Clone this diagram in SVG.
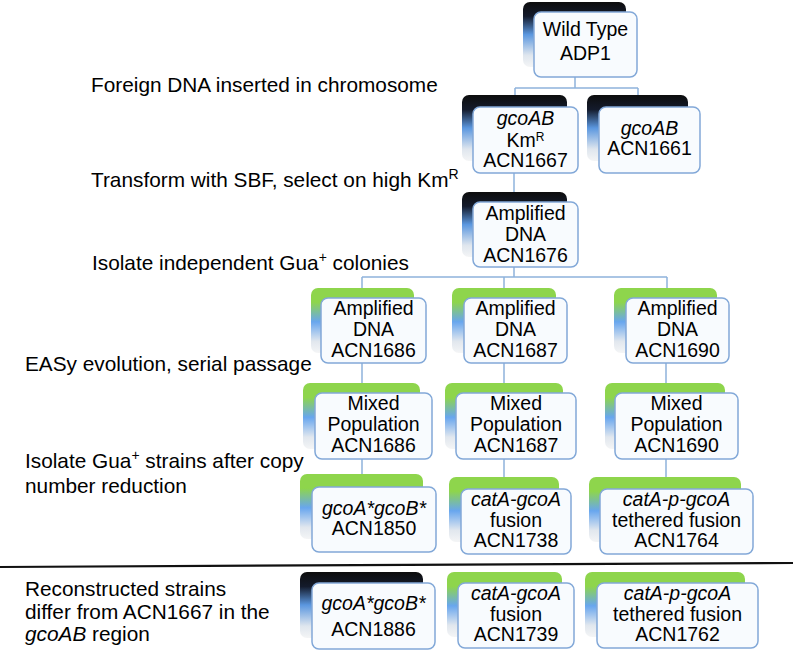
<svg xmlns="http://www.w3.org/2000/svg" width="793" height="650" viewBox="0 0 793 650">
<defs>
<linearGradient id="gDark" x1="0" y1="0" x2="0" y2="1">
<stop offset="0" stop-color="#0d0d0d"/>
<stop offset="0.22" stop-color="#141b2c"/>
<stop offset="0.5" stop-color="#5b97df"/>
<stop offset="0.82" stop-color="#dfe6ee"/>
<stop offset="1" stop-color="#f4f5f6"/>
</linearGradient>
<linearGradient id="gGreen" x1="0" y1="0" x2="0" y2="1">
<stop offset="0" stop-color="#8ed54c"/>
<stop offset="0.22" stop-color="#8ed54c"/>
<stop offset="0.52" stop-color="#68a6ee"/>
<stop offset="0.82" stop-color="#e1e7ee"/>
<stop offset="1" stop-color="#f4f5f6"/>
</linearGradient>
<style>
.box{fill:#f8fbfe;stroke:#82a8d8;stroke-width:1.5}
.bk{fill:url(#gDark)}
.bg{fill:url(#gGreen)}
.t{font-family:"Liberation Sans",Arial,sans-serif;font-size:19.5px;fill:#000;text-anchor:middle}
.l{font-family:"Liberation Sans",Arial,sans-serif;font-size:20.8px;fill:#000}
.i{font-style:italic}
.c{stroke:#8eb3dc;stroke-width:1.5;fill:none}
</style>
</defs>
<rect width="793" height="650" fill="#ffffff"/>

<g id="connectors" class="c">
<path d="M575,77 V88 M515,88 H638 M515,88 V107 M638,88 V107"/>
<path d="M514,173 V202"/>
<path d="M514,267 V277 M362,277 H667 M362,277 V298 M504,277 V298 M667,277 V298"/>
<path d="M362,363 V393 M504,363 V393 M666,363 V393"/>
<path d="M362,459 V487 M504,459 V489 M666,459 V489"/>
</g>

<g id="labels" class="l">
<text x="91" y="92">Foreign DNA inserted in chromosome</text>
<text x="91" y="187">Transform with SBF, select on high Km<tspan font-size="14" dy="-8">R</tspan></text>
<text x="92" y="270">Isolate independent Gua<tspan font-size="14" dy="-8">+</tspan><tspan dy="8">  colonies</tspan></text>
<text x="25" y="371">EASy evolution, serial passage</text>
<text x="25" y="468">Isolate Gua<tspan font-size="14" dy="-8">+</tspan><tspan dy="8"> strains after copy</tspan></text>
<text x="25" y="493">number reduction</text>
<text x="25" y="596">Reconstructed strains</text>
<text x="25" y="619">differ from ACN1667 in the</text>
<text x="25" y="641"><tspan class="i">gcoAB</tspan> region</text>
</g>

<path id="divider" d="M0,567 L793,563" stroke="#111" stroke-width="2.2" fill="none"/>

<g id="n-adp1">
<rect class="bk" x="523" y="2" width="103" height="65" rx="7"/>
<rect class="box" x="534" y="12" width="103" height="65" rx="7"/>
<text class="t"><tspan x="585.5" y="36">Wild Type</tspan><tspan x="585.5" y="60">ADP1</tspan></text>
</g>

<g id="n-acn1667">
<rect class="bk" x="462" y="95" width="105" height="66" rx="7"/>
<rect class="box" x="473" y="107" width="105" height="66" rx="7"/>
<text class="t"><tspan x="525.5" y="125" class="i">gcoAB</tspan><tspan x="525.5" y="147">Km<tspan font-size="12" dy="-6">R</tspan></tspan><tspan x="525.5" y="167">ACN1667</tspan></text>
</g>

<g id="n-acn1661">
<rect class="bk" x="587" y="95" width="101" height="66" rx="7"/>
<rect class="box" x="599" y="107" width="101" height="66" rx="7"/>
<text class="t"><tspan x="649.5" y="135" class="i">gcoAB</tspan><tspan x="649.5" y="155">ACN1661</tspan></text>
</g>

<g id="n-acn1676">
<rect class="bk" x="462" y="192" width="105" height="65" rx="7"/>
<rect class="box" x="473" y="202" width="105" height="65" rx="7"/>
<text class="t"><tspan x="525.5" y="220">Amplified</tspan><tspan x="525.5" y="241">DNA</tspan><tspan x="525.5" y="262">ACN1676</tspan></text>
</g>

<g id="n-acn1686a">
<rect class="bg" x="311" y="288" width="103" height="65" rx="7"/>
<rect class="box" x="321" y="298" width="105" height="65" rx="7"/>
<text class="t"><tspan x="373.5" y="315">Amplified</tspan><tspan x="373.5" y="336">DNA</tspan><tspan x="373.5" y="357">ACN1686</tspan></text>
</g>

<g id="n-acn1687a">
<rect class="bg" x="452" y="288" width="104" height="65" rx="7"/>
<rect class="box" x="464" y="298" width="103" height="65" rx="7"/>
<text class="t"><tspan x="515.5" y="315">Amplified</tspan><tspan x="515.5" y="336">DNA</tspan><tspan x="515.5" y="357">ACN1687</tspan></text>
</g>

<g id="n-acn1690a">
<rect class="bg" x="614" y="288" width="103" height="65" rx="7"/>
<rect class="box" x="626" y="298" width="103" height="65" rx="7"/>
<text class="t"><tspan x="677.5" y="315">Amplified</tspan><tspan x="677.5" y="336">DNA</tspan><tspan x="677.5" y="357">ACN1690</tspan></text>
</g>

<g id="n-acn1686m">
<rect class="bg" x="303" y="383" width="117" height="66" rx="7"/>
<rect class="box" x="315" y="393" width="117" height="66" rx="7"/>
<text class="t"><tspan x="373.5" y="410">Mixed</tspan><tspan x="373.5" y="431">Population</tspan><tspan x="373.5" y="452">ACN1686</tspan></text>
</g>

<g id="n-acn1687m">
<rect class="bg" x="445" y="383" width="118" height="66" rx="7"/>
<rect class="box" x="456" y="393" width="120" height="66" rx="7"/>
<text class="t"><tspan x="516" y="410">Mixed</tspan><tspan x="516" y="431">Population</tspan><tspan x="516" y="452">ACN1687</tspan></text>
</g>

<g id="n-acn1690m">
<rect class="bg" x="605" y="383" width="120" height="66" rx="7"/>
<rect class="box" x="615" y="393" width="123" height="66" rx="7"/>
<text class="t"><tspan x="676.5" y="410">Mixed</tspan><tspan x="676.5" y="431">Population</tspan><tspan x="676.5" y="452">ACN1690</tspan></text>
</g>

<g id="n-acn1850">
<rect class="bg" x="300" y="474" width="123" height="65" rx="7"/>
<rect class="box" x="312" y="487" width="124" height="65" rx="7"/>
<text class="t"><tspan x="374" y="515" class="i">gcoA*gcoB*</tspan><tspan x="374" y="535">ACN1850</tspan></text>
</g>

<g id="n-acn1738">
<rect class="bg" x="449" y="477" width="110" height="65" rx="7"/>
<rect class="box" x="461" y="489" width="110" height="65" rx="7"/>
<text class="t"><tspan x="516" y="506" class="i">catA-gcoA</tspan><tspan x="516" y="527">fusion</tspan><tspan x="516" y="547">ACN1738</tspan></text>
</g>

<g id="n-acn1764">
<rect class="bg" x="589" y="477" width="152" height="65" rx="7"/>
<rect class="box" x="600" y="489" width="153" height="65" rx="7"/>
<text class="t"><tspan x="676.5" y="506" class="i">catA-p-gcoA</tspan><tspan x="676.5" y="527">tethered fusion</tspan><tspan x="676.5" y="547">ACN1764</tspan></text>
</g>

<g id="n-acn1886">
<rect class="bk" x="300" y="572" width="123" height="66" rx="7"/>
<rect class="box" x="312" y="583" width="123" height="66" rx="7"/>
<text class="t"><tspan x="373.5" y="610" class="i">gcoA*gcoB*</tspan><tspan x="373.5" y="636">ACN1886</tspan></text>
</g>

<g id="n-acn1739">
<rect class="bg" x="447" y="572" width="115" height="65" rx="7"/>
<rect class="box" x="458" y="583" width="116" height="65" rx="7"/>
<text class="t"><tspan x="516" y="600" class="i">catA-gcoA</tspan><tspan x="516" y="621">fusion</tspan><tspan x="516" y="641">ACN1739</tspan></text>
</g>

<g id="n-acn1762">
<rect class="bg" x="585" y="572" width="160" height="65" rx="7"/>
<rect class="box" x="597" y="583" width="161" height="65" rx="7"/>
<text class="t"><tspan x="677.5" y="600" class="i">catA-p-gcoA</tspan><tspan x="677.5" y="621">tethered fusion</tspan><tspan x="677.5" y="641">ACN1762</tspan></text>
</g>
</svg>
